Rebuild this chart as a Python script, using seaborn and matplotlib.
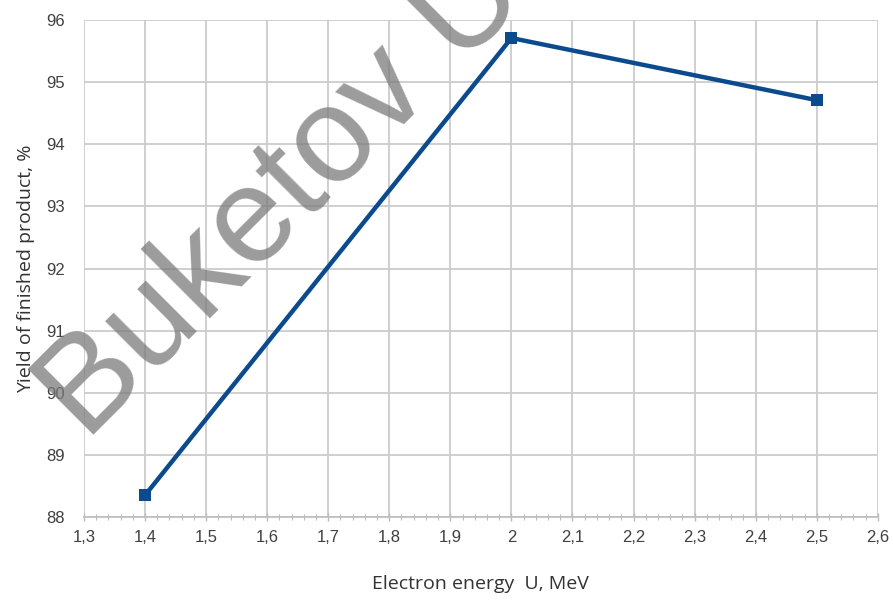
import numpy as np
import pandas as pd
import seaborn as sns
import matplotlib.pyplot as plt
from matplotlib.ticker import FixedLocator, MultipleLocator

# data
energy = [1.4, 2.0, 2.5]
yield_pct = [88.35, 95.71, 94.71]

x_ticks = [1.3, 1.4, 1.5, 1.6, 1.7, 1.8, 1.9, 2.0, 2.1, 2.2, 2.3, 2.4, 2.5, 2.6]
x_labels = ["1,3", "1,4", "1,5", "1,6", "1,7", "1,8", "1,9", "2",
            "2,1", "2,2", "2,3", "2,4", "2,5", "2,6"]
y_ticks = [88, 89, 90, 91, 92, 93, 94, 95, 96]

sns.set_style("whitegrid")
plt.rcParams['font.family'] = ['Liberation Sans', 'DejaVu Sans']

fig = plt.figure(figsize=(8.93, 6.03), dpi=100)
ax = fig.add_axes([0.094, 0.1426, 0.889, 0.8242])

df = pd.DataFrame({"energy": energy, "yield": yield_pct})
sns.lineplot(data=df, x="energy", y="yield", ax=ax, color="#0c4a8e",
             linewidth=3.2, marker="s", markersize=8, markeredgewidth=0)

ax.set_xlim(1.3, 2.6)
ax.set_ylim(88, 96)
ax.xaxis.set_major_locator(FixedLocator(x_ticks))
ax.set_xticklabels(x_labels)
ax.xaxis.set_minor_locator(MultipleLocator(0.02))
ax.yaxis.set_major_locator(FixedLocator(y_ticks))
ax.set_yticklabels([str(v) for v in y_ticks])

ax.grid(True, which="major", color="#cccccc", linewidth=1.3)
ax.grid(False, which="minor")
for s in ["top", "right", "left"]:
    ax.spines[s].set_visible(False)
ax.spines["bottom"].set_color("#c0c0c0")
ax.spines["bottom"].set_linewidth(1.3)
ax.tick_params(axis="x", which="both", bottom=True, direction="inout",
               color="#bbbbbb", labelsize=12, labelcolor="#404040", pad=6)
ax.tick_params(axis="x", which="minor", length=4, width=0.8)
ax.tick_params(axis="x", which="major", length=6, width=1)
ax.tick_params(axis="y", left=False, labelsize=12, labelcolor="#404040", pad=10)

ax.set_xlabel("Electron energy  U, MeV", fontsize=14, color="#333333",
              family=["Open Sans", "DejaVu Sans"], labelpad=22)
ax.set_ylabel("Yield of finished product, %", fontsize=14, color="#333333",
              family=["Open Sans", "DejaVu Sans"], labelpad=8)

# watermark
fig.text(0.0963, 0.267, "Buketov U", fontsize=98, color="#7a7a7a", alpha=0.75,
         rotation=45, rotation_mode="anchor", ha="left", va="baseline")

fig.savefig("out.png", dpi=100)
